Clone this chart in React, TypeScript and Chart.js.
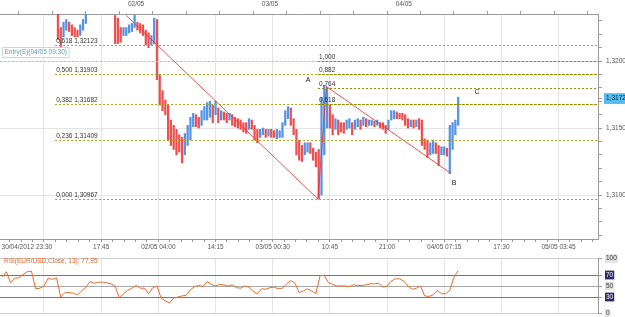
import React, { useEffect, useRef } from 'react';
import { Chart, registerables } from 'chart.js';

Chart.register(...registerables);

const FONT = "'Liberation Sans', Arial, sans-serif";
const FS = 6.5;

// ---------------- data ----------------
const timeLabels = ['30/04/2012 23:30', '17:45', '02/05 04:00', '14:15', '03/05 00:30', '10:45', '21:00', '04/05 07:15', '17:30', '05/05 03:45'];
const timeLabelBars = 41; // bars between bottom labels (15 min bars)
const dayLabels = ['02/05', '03/05', '04/05'];
const dayLabelBars = [66, 162, 258];
const sixHourBars = 24;

const barStep = 2;
const seg1Start = 10;
const seg1High = [1.3236, 1.3225, 1.3229, 1.3231, 1.3229, 1.3227, 1.3225, 1.3223, 1.3227, 1.3231, 1.3237];
const seg1Low = [1.3216, 1.3206, 1.3218, 1.3223, 1.3222, 1.3219, 1.3218, 1.3218, 1.3219, 1.3223, 1.3228];

const seg2Start = 51;
const seg2High = [
  1.3234, 1.3232, 1.3225, 1.3225, 1.3225, 1.3227, 1.3228, 1.3234, 1.3229, 1.3228,
  1.3227, 1.3223, 1.3221, 1.3219, 1.3232, 1.3231, 1.3190, 1.3178, 1.3171, 1.3167,
  1.3156, 1.3152, 1.3149, 1.3145, 1.3143, 1.3146, 1.3152, 1.3158, 1.3161, 1.3160,
  1.3158, 1.3163, 1.3166, 1.3169, 1.3170, 1.3167, 1.3170, 1.3165, 1.3163, 1.3162,
  1.3161, 1.3161, 1.3160, 1.3158, 1.3157, 1.3156, 1.3154, 1.3154, 1.3157, 1.3156,
  1.3152, 1.3149, 1.3149, 1.3150, 1.3149, 1.3149, 1.3149, 1.3148, 1.3149, 1.3148,
  1.3154, 1.3163, 1.3166, 1.3165, 1.3157, 1.3149, 1.3141, 1.3137, 1.3139, 1.3139,
  1.3139, 1.3135, 1.3132, 1.3134, 1.3173, 1.3182, 1.3180, 1.3167, 1.3160, 1.3157,
  1.3156, 1.3154, 1.3154, 1.3156, 1.3157, 1.3154, 1.3156, 1.3157, 1.3156, 1.3158,
  1.3157, 1.3156, 1.3156, 1.3155, 1.3156, 1.3154, 1.3154, 1.3152, 1.3156, 1.3163,
  1.3163, 1.3162, 1.3161, 1.3161, 1.3160, 1.3157, 1.3156, 1.3156, 1.3156, 1.3157,
  1.3156, 1.3142, 1.3141, 1.3139, 1.3141, 1.3139, 1.3137, 1.3136, 1.3136, 1.3135,
  1.3152, 1.3154, 1.3156, 1.3173,
];
const seg2Low = [
  1.3213, 1.3213, 1.3214, 1.3219, 1.3219, 1.3221, 1.3222, 1.3225, 1.3223, 1.3221,
  1.3219, 1.3212, 1.3210, 1.3212, 1.3213, 1.3186, 1.3167, 1.3163, 1.3160, 1.3141,
  1.3137, 1.3134, 1.3130, 1.3132, 1.3124, 1.3130, 1.3137, 1.3141, 1.3151, 1.3151,
  1.3150, 1.3152, 1.3156, 1.3156, 1.3158, 1.3154, 1.3160, 1.3154, 1.3156, 1.3156,
  1.3154, 1.3156, 1.3152, 1.3151, 1.3150, 1.3149, 1.3147, 1.3146, 1.3149, 1.3149,
  1.3141, 1.3139, 1.3143, 1.3145, 1.3143, 1.3144, 1.3143, 1.3143, 1.3142, 1.3143,
  1.3143, 1.3152, 1.3157, 1.3152, 1.3145, 1.3130, 1.3126, 1.3125, 1.3130, 1.3132,
  1.3131, 1.3126, 1.3121, 1.3097, 1.3100, 1.3130, 1.3150, 1.3150, 1.3145, 1.3149,
  1.3145, 1.3147, 1.3146, 1.3149, 1.3150, 1.3145, 1.3149, 1.3151, 1.3149, 1.3152,
  1.3151, 1.3152, 1.3152, 1.3151, 1.3152, 1.3150, 1.3149, 1.3146, 1.3149, 1.3156,
  1.3157, 1.3157, 1.3157, 1.3156, 1.3152, 1.3150, 1.3151, 1.3150, 1.3151, 1.3149,
  1.3137, 1.3134, 1.3128, 1.3130, 1.3131, 1.3131, 1.3122, 1.3130, 1.3130, 1.3129,
  1.3116, 1.3134, 1.3145, 1.3152,
];

const fib1Ratios = ['0,618', '0,500', '0,382', '0,236', '0,000'];
const fib1Prices = [1.32123, 1.31903, 1.31682, 1.31409, 1.30967];
const fib1StartBar = 8;
const fib2Ratios = ['1,000', '0,882', '0,764', '0,618'];
const fib2Prices = [1.3200, 1.31901, 1.31802, 1.31679];
const fib2StartBar = 196.5;

const zigzagBars = [59, 196.5, 202.5, 292];
const zigzagPrices = [1.3234, 1.3097, 1.3181, 1.3116];

const entryPrice = 1.32;
const entryText = 'Entry(S)(04/05 09:30)';
const currentPrice = 1.3172;

const pointNames = ['A', 'B', 'C'];
const pointBars = [189.3, 294, 310.5];
const pointPrices = [1.31858, 1.3109, 1.31769];

const rsiStart = -30;
const rsiStep = 3;
const rsiValues = [
  66, 76, 56, 64, 65, 71, 76, 77, 45, 46,
  50, 64, 62, 65, 30, 38, 38, 37, 34, 41,
  48, 58, 55, 57, 57, 56, 54, 50, 28, 36,
  42, 46, 51, 46, 46, 36, 47, 50, 28, 23,
  19, 28, 30, 32, 33, 43, 49, 51, 49, 58,
  53, 50, 53, 52, 50, 52, 47, 46, 50, 48,
  40, 36, 45, 44, 47, 48, 45, 46, 54, 60,
  55, 38, 41, 45, 41, 36, 69, 69, 56, 53,
  50, 50, 50, 49, 52, 51, 51, 52, 54, 54,
  55, 48, 50, 59, 63, 63, 59, 50, 44, 46,
  50, 32, 31, 34, 42, 36, 36, 42, 66, 77.95,
];
const rsiLevels = [0, 30, 50, 70, 100];
const rsiTitle = 'RSI(EUR/USD,Close, 13): ';

// ---------------- layout constants ----------------
const X_MIN = -31.55;
const X_MAX = 397.28;
const P_MIN = 1.30672;
const P_MAX = 1.32351;
const AXIS_W = 27;
const GRID = '#e4e4e4';
const AXIS = '#9a9a9a';
const BLUE = '#5593e4';
const RED = '#ee5050';

const fmtPrice = (v: number) => v.toFixed(4).replace('.', ',');
const isMajorTime = (v: number) => Math.abs(v / timeLabelBars - Math.round(v / timeLabelBars)) < 1e-6;
const isCurrent = (v: number) => Math.abs(v - currentPrice) < 1e-7;

function buildCandles() {
  const data: any[] = [];
  const colors: string[] = [];
  const add = (start: number, highs: number[], lows: number[]) => {
    let prev: number | null = null;
    highs.forEach((h, k) => {
      const l = lows[k];
      const mid = (h + l) / 2;
      data.push({ x: start + k * barStep, y: [l, h] });
      colors.push(prev === null || mid < prev ? RED : BLUE);
      prev = mid;
    });
  };
  add(seg1Start, seg1High, seg1Low);
  add(seg2Start, seg2High, seg2Low);
  return { data, colors };
}

const zeroPad = (s: any) => {
  s.paddingLeft = 0; s.paddingRight = 0; s.paddingTop = 0; s.paddingBottom = 0;
};

const mainOverlay = {
  id: 'mainOverlay',
  afterDatasetsDraw(chart: any) {
    const { ctx, chartArea: a, scales } = chart;
    const xs = scales.x, ys = scales.y;
    const py = (p: number) => Math.round(ys.getPixelForValue(p)) + 0.5;
    ctx.save();
    ctx.beginPath();
    ctx.rect(a.left, a.top, a.right - a.left, a.bottom - a.top);
    ctx.clip();
    ctx.lineWidth = 1;
    ctx.setLineDash([2, 2]);
    // entry line
    ctx.strokeStyle = '#9fcbd6';
    ctx.beginPath();
    ctx.moveTo(a.left, py(entryPrice));
    ctx.lineTo(a.right, py(entryPrice));
    ctx.stroke();
    // fib lines
    const drawFib = (prices: number[], startBar: number, color: string) => {
      const x0 = xs.getPixelForValue(startBar);
      ctx.strokeStyle = color;
      prices.forEach((p) => {
        ctx.beginPath();
        ctx.moveTo(x0, py(p));
        ctx.lineTo(a.right, py(p));
        ctx.stroke();
      });
    };
    drawFib(fib1Prices, fib1StartBar, '#aaa214');
    drawFib(fib2Prices, fib2StartBar, '#8f8a10');
    ctx.setLineDash([]);
    // fib labels
    ctx.font = `${FS}px ${FONT}`;
    ctx.fillStyle = '#333';
    ctx.textAlign = 'left';
    ctx.textBaseline = 'bottom';
    const x1 = xs.getPixelForValue(fib1StartBar);
    fib1Prices.forEach((p, k) => {
      ctx.fillText(`${fib1Ratios[k]} ${p.toFixed(5).replace('.', ',')}`, x1 + 1, py(p) - 1);
    });
    const x2 = xs.getPixelForValue(fib2StartBar);
    fib2Prices.forEach((p, k) => {
      ctx.fillText(fib2Ratios[k], x2 + 1, py(p) - 1);
    });
    // entry label
    const ey = py(entryPrice);
    const tw = ctx.measureText(entryText).width;
    ctx.fillStyle = '#ffffff';
    ctx.fillRect(2.5, ey - 14, tw + 4, 10);
    ctx.strokeStyle = '#c9d6da';
    ctx.strokeRect(2.5, ey - 14, tw + 4, 10);
    ctx.fillStyle = '#5f9ea8';
    ctx.textBaseline = 'middle';
    ctx.fillText(entryText, 4.5, ey - 9);
    // point labels
    ctx.fillStyle = '#222';
    ctx.textAlign = 'center';
    ctx.font = `7px ${FONT}`;
    pointNames.forEach((n, k) => {
      ctx.fillText(n, xs.getPixelForValue(pointBars[k]), ys.getPixelForValue(pointPrices[k]));
    });
    ctx.restore();
  },
};

const rsiOverlay = {
  id: 'rsiOverlay',
  afterDatasetsDraw(chart: any) {
    const { ctx, chartArea: a } = chart;
    ctx.save();
    ctx.font = `${FS}px ${FONT}`;
    ctx.fillStyle = '#e0662e';
    ctx.textAlign = 'left';
    ctx.textBaseline = 'middle';
    const last = rsiValues[rsiValues.length - 1];
    ctx.fillText(rsiTitle + last.toFixed(2).replace('.', ','), 4, a.top + 3);
    ctx.restore();
  },
};

function mainConfig(): any {
  const { data, colors } = buildCandles();
  const bottomTicks: number[] = [];
  for (let m = -3; m <= 48; m++) bottomTicks.push((m * timeLabelBars) / 5);
  const topTicks: number[] = [];
  for (let k = -4; k <= 13; k++) topTicks.push(dayLabelBars[0] + k * sixHourBars);
  const priceTicks: number[] = [];
  for (let k = 1307; k <= 1323; k++) priceTicks.push(k / 1000);
  priceTicks.push(currentPrice);
  priceTicks.sort((p, q) => p - q);
  const tickFont = { family: FONT, size: FS };
  return {
    type: 'bar',
    data: {
      datasets: [
        {
          type: 'line',
          data: zigzagBars.map((b, k) => ({ x: b, y: zigzagPrices[k] })),
          borderColor: 'rgba(232,52,52,0.85)',
          borderWidth: 1,
          pointRadius: 0,
          order: 0,
        },
        {
          type: 'bar',
          data,
          backgroundColor: colors,
          barThickness: 1.6,
          borderWidth: 0,
          order: 1,
        },
      ],
    },
    options: {
      responsive: false,
      animation: false,
      devicePixelRatio: 1,
      layout: { padding: 0 },
      plugins: { legend: { display: false }, tooltip: { enabled: false } },
      scales: {
        x: {
          type: 'linear', position: 'bottom', min: X_MIN, max: X_MAX, offset: false,
          afterBuildTicks: (s: any) => { s.ticks = bottomTicks.map((v) => ({ value: v })); },
          afterFit: (s: any) => { s.height = 13; zeroPad(s); },
          ticks: {
            autoSkip: false, maxRotation: 0, minRotation: 0, padding: 1.5, color: '#555', font: tickFont,
            callback: (v: number) => {
              const m = Math.round((v * 5) / timeLabelBars);
              if (m % 5 !== 0) return '';
              const idx = m / 5;
              const t = timeLabels[idx];
              if (t === undefined) return '';
              return idx === 0 ? t + ' '.repeat(19) : t;
            },
          },
          grid: {
            offset: false, drawTicks: true, tickLength: 3, tickColor: AXIS,
            color: (c: any) => (c.tick && isMajorTime(c.tick.value) ? GRID : 'rgba(0,0,0,0)'),
          },
          border: { display: true, color: AXIS },
        },
        x2: {
          type: 'linear', axis: 'x', position: 'top', min: X_MIN, max: X_MAX, offset: false,
          afterBuildTicks: (s: any) => { s.ticks = topTicks.map((v) => ({ value: v })); },
          afterFit: (s: any) => { s.height = 14; zeroPad(s); },
          ticks: {
            autoSkip: false, maxRotation: 0, minRotation: 0, padding: 2.5, color: '#555', font: tickFont,
            callback: (v: number) => {
              const i = dayLabelBars.indexOf(Math.round(v));
              return i >= 0 ? dayLabels[i] : '';
            },
          },
          grid: { drawOnChartArea: false, drawTicks: true, tickLength: 3, tickColor: AXIS },
          border: { display: true, color: AXIS },
        },
        y: {
          type: 'linear', position: 'right', min: P_MIN, max: P_MAX,
          afterBuildTicks: (s: any) => { s.ticks = priceTicks.map((v) => ({ value: v })); },
          afterFit: (s: any) => { s.width = AXIS_W; zeroPad(s); },
          ticks: {
            autoSkip: false, padding: 4, font: tickFont,
            color: (c: any) => (c.tick && isCurrent(c.tick.value) ? '#0d2a40' : '#555'),
            showLabelBackdrop: (c: any) => !!(c.tick && isCurrent(c.tick.value)),
            backdropColor: '#55bdf0',
            backdropPadding: { top: 1.5, bottom: 1.5, left: 2, right: 6 },
            callback: (v: number) => {
              if (isCurrent(v)) return fmtPrice(v);
              return Math.round(v * 10000) % 50 === 0 ? fmtPrice(v) : '';
            },
          },
          grid: {
            drawTicks: true, tickLength: 4, tickColor: AXIS,
            color: (c: any) => (c.tick && !isCurrent(c.tick.value) && Math.round(c.tick.value * 10000) % 50 === 0 ? GRID : 'rgba(0,0,0,0)'),
          },
          border: { display: true, color: AXIS },
        },
      },
    },
    plugins: [mainOverlay],
  };
}

function rsiConfig(): any {
  const majors: number[] = [];
  for (let k = 0; k <= 9; k++) majors.push(k * timeLabelBars);
  const tickFont = { family: FONT, size: FS };
  const dark = (v: number) => v === 30 || v === 70;
  return {
    type: 'line',
    data: {
      datasets: [
        {
          data: rsiValues.map((v, k) => ({ x: rsiStart + k * rsiStep, y: v })),
          borderColor: '#ee6a2a',
          borderWidth: 1,
          pointRadius: 0,
          tension: 0,
        },
      ],
    },
    options: {
      responsive: false,
      animation: false,
      devicePixelRatio: 1,
      layout: { padding: { top: 6.5, bottom: 3.5, left: 0, right: 0 } },
      plugins: { legend: { display: false }, tooltip: { enabled: false } },
      scales: {
        x: {
          type: 'linear', min: X_MIN, max: X_MAX, offset: false,
          afterBuildTicks: (s: any) => { s.ticks = majors.map((v) => ({ value: v })); },
          afterFit: (s: any) => { s.height = 0; zeroPad(s); },
          ticks: { display: false },
          grid: { drawTicks: false, color: GRID },
          border: { display: false },
        },
        y: {
          type: 'linear', position: 'right', min: 0, max: 100,
          afterBuildTicks: (s: any) => { s.ticks = rsiLevels.map((v) => ({ value: v })); },
          afterFit: (s: any) => { s.width = AXIS_W; zeroPad(s); },
          ticks: {
            autoSkip: false, padding: 4, font: tickFont,
            color: (c: any) => (c.tick && dark(c.tick.value) ? '#ffffff' : '#333'),
            showLabelBackdrop: true,
            backdropColor: (c: any) => (c.tick && dark(c.tick.value) ? '#2c2c68' : '#e2e2e2'),
            backdropPadding: { top: 0.5, bottom: 0.5, left: 1, right: 1 },
            callback: (v: number) => String(v),
          },
          grid: {
            drawTicks: true, tickLength: 4, tickColor: AXIS,
            color: (c: any) => {
              const v = c.tick ? c.tick.value : 0;
              if (dark(v)) return '#74748f';
              if (v === 50) return '#a8a8a8';
              return '#cfcfcf';
            },
          },
          border: { display: true, color: AXIS },
        },
      },
    },
    plugins: [rsiOverlay],
  };
}

export default function App() {
  const mainRef = useRef<HTMLCanvasElement>(null);
  const rsiRef = useRef<HTMLCanvasElement>(null);
  useEffect(() => {
    document.body.style.margin = '0';
    const main = new Chart(mainRef.current as HTMLCanvasElement, mainConfig());
    const rsi = new Chart(rsiRef.current as HTMLCanvasElement, rsiConfig());
    return () => {
      main.destroy();
      rsi.destroy();
    };
  }, []);
  return (
    <div style={{ position: 'relative', width: 625, height: 317, background: '#ffffff', overflow: 'hidden' }}>
      <canvas ref={mainRef} width={625} height={252} style={{ position: 'absolute', left: 0, top: 0, width: 625, height: 252 }} />
      <canvas ref={rsiRef} width={625} height={65} style={{ position: 'absolute', left: 0, top: 252, width: 625, height: 65 }} />
    </div>
  );
}
